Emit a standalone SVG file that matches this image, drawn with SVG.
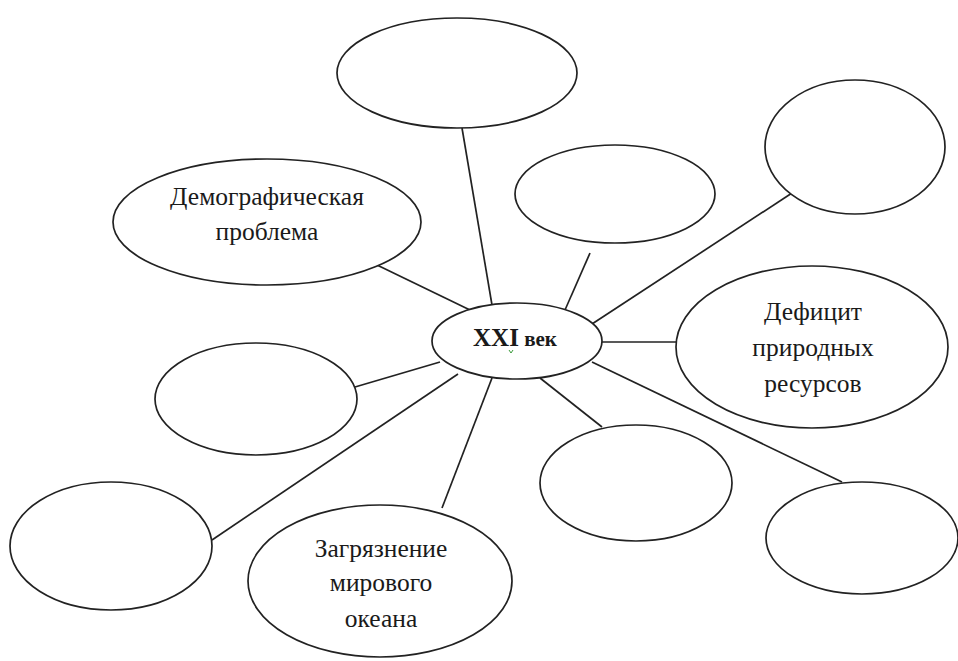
<svg xmlns="http://www.w3.org/2000/svg" width="958" height="661" viewBox="0 0 958 661">
<style>
.n ellipse{fill:#fff;stroke:#222;stroke-width:1.7}
.c line{stroke:#222;stroke-width:1.7}
text{font-family:"Liberation Serif","Times New Roman",serif;font-size:25.5px;fill:#1a1a1a;text-anchor:middle}
.b{font-weight:bold}
</style>
<rect width="958" height="661" fill="#fff"/>
<g id="connectors" class="c">
<line x1="462" y1="128" x2="492" y2="305"/>
<line x1="377" y1="265" x2="470" y2="310"/>
<line x1="590" y1="253" x2="565" y2="310"/>
<line x1="792" y1="193" x2="592" y2="324"/>
<line x1="602" y1="342" x2="680" y2="342"/>
<line x1="355" y1="387" x2="440" y2="362"/>
<line x1="212" y1="540" x2="458" y2="374"/>
<line x1="442" y1="508" x2="492" y2="378"/>
<line x1="602" y1="427" x2="540" y2="378"/>
<line x1="842" y1="482" x2="592" y2="362"/>
</g>
<g id="top" class="n"><ellipse cx="457" cy="73" rx="120" ry="55"/></g>
<g id="demography" class="n"><ellipse cx="267" cy="222" rx="154" ry="63"/>
<text x="267" y="205">Демографическая</text><text x="267" y="240">проблема</text></g>
<g id="upper-mid" class="n"><ellipse cx="615" cy="194" rx="100" ry="49"/></g>
<g id="top-right" class="n"><ellipse cx="855" cy="147" rx="90" ry="67"/></g>
<g id="deficit" class="n"><ellipse cx="812" cy="347" rx="136" ry="81"/>
<text x="813" y="320">Дефицит</text><text x="813" y="356">природных</text><text x="813" y="392">ресурсов</text></g>
<g id="left-mid" class="n"><ellipse cx="256" cy="399" rx="101" ry="56"/></g>
<g id="bottom-left" class="n"><ellipse cx="111" cy="546" rx="101" ry="64"/></g>
<g id="ocean" class="n"><ellipse cx="380" cy="581" rx="132" ry="76"/>
<text x="381" y="557">Загрязнение</text><text x="381" y="591">мирового</text><text x="381" y="627">океана</text></g>
<g id="lower-mid" class="n"><ellipse cx="636" cy="483" rx="96" ry="58"/></g>
<g id="bottom-right" class="n"><ellipse cx="862" cy="538" rx="96" ry="56"/></g>
<g id="center" class="n"><ellipse cx="517" cy="341" rx="85" ry="38"/>
<text x="515" y="346" class="b"><tspan font-size="25">XXI</tspan><tspan font-size="21"> век</tspan></text>
<path d="M509 350 l2 3 l2 -3" fill="none" stroke="#3a9a3a" stroke-width="1"/></g>
</svg>
